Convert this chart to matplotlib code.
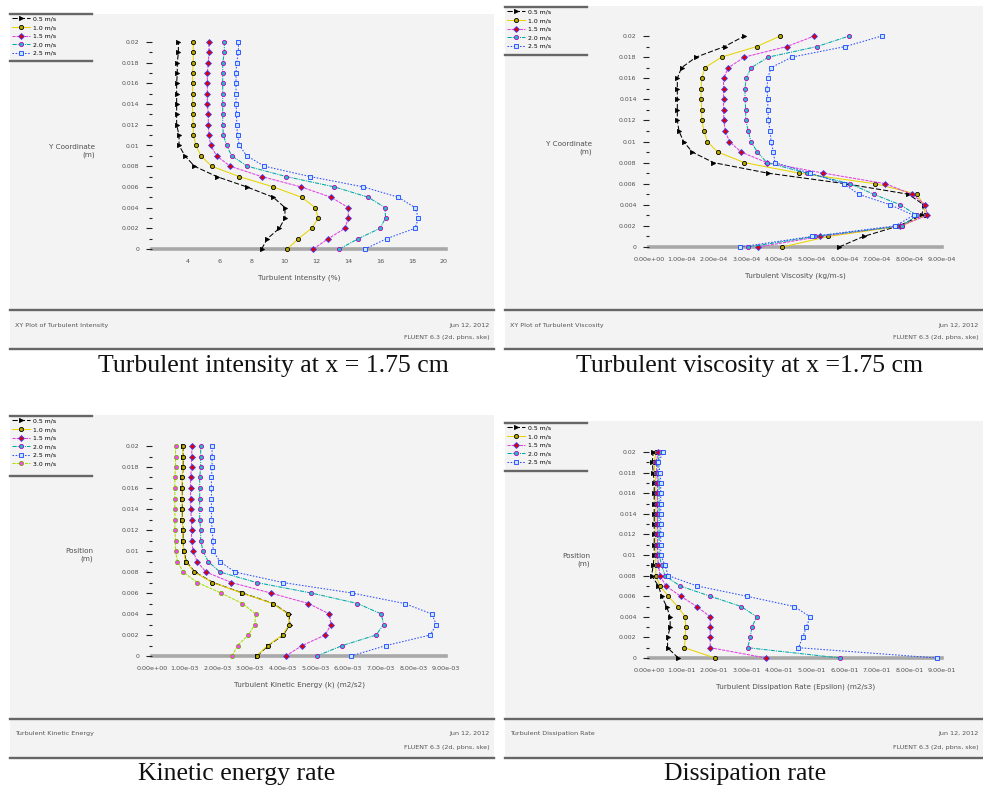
import matplotlib
matplotlib.use("Agg")
import matplotlib.pyplot as plt
from matplotlib.lines import Line2D
from matplotlib.patches import Rectangle
from matplotlib.ticker import FixedLocator, FuncFormatter

W, H = 983, 786

# wall-normal position of the 21 sampling points (m), bottom to top
pos = [0.0, 0.001, 0.002, 0.003, 0.004, 0.005, 0.006, 0.007, 0.008, 0.009, 0.010,
       0.011, 0.012, 0.013, 0.014, 0.015, 0.016, 0.017, 0.018, 0.019, 0.020]

case_labels = ["0.5 m/s", "1.0 m/s", "1.5 m/s", "2.0 m/s", "2.5 m/s"]
case_labels_k = ["0.5 m/s", "1.0 m/s", "1.5 m/s", "2.0 m/s", "2.5 m/s", "3.0 m/s"]

# turbulent intensity (%) at x = 1.75 cm
ti_1 = [8.60, 8.96, 9.71, 10.06, 10.06, 9.33, 7.67, 5.79, 4.40, 3.81, 3.44,
        3.44, 3.29, 3.29, 3.29, 3.29, 3.29, 3.33, 3.33, 3.40, 3.40]
ti_2 = [10.21, 10.90, 11.73, 12.15, 11.94, 11.10, 9.33, 7.19, 5.48, 4.81, 4.50,
        4.33, 4.33, 4.29, 4.29, 4.29, 4.29, 4.29, 4.33, 4.33, 4.33]
ti_3 = [11.83, 12.77, 13.81, 14.02, 14.02, 12.94, 11.06, 8.60, 6.63, 5.79, 5.42,
        5.31, 5.27, 5.27, 5.21, 5.21, 5.21, 5.21, 5.27, 5.31, 5.31]
ti_4 = [13.46, 14.65, 16.00, 16.35, 16.31, 15.27, 13.15, 10.13, 7.71, 6.73, 6.42,
        6.21, 6.17, 6.17, 6.17, 6.17, 6.17, 6.17, 6.17, 6.27, 6.27]
ti_5 = [15.06, 16.42, 18.19, 18.40, 18.19, 17.15, 14.96, 11.63, 8.77, 7.67, 7.21,
        7.10, 7.04, 7.04, 7.00, 7.00, 7.00, 7.00, 7.04, 7.15, 7.15]

# turbulent viscosity (x 1e-4 kg/m-s) at x = 1.75 cm
mu_1 = [5.84, 6.59, 7.67, 8.38, 8.44, 7.97, 6.03, 3.65, 1.98, 1.33, 1.06,
        0.92, 0.87, 0.87, 0.87, 0.87, 0.87, 1.00, 1.45, 2.32, 2.93]
mu_2 = [4.10, 5.51, 7.77, 8.49, 8.44, 8.23, 6.95, 4.61, 2.93, 2.11, 1.79,
        1.69, 1.62, 1.62, 1.60, 1.60, 1.62, 1.72, 2.23, 3.31, 4.03]
mu_3 = [3.36, 5.26, 7.72, 8.54, 8.49, 8.08, 7.26, 5.36, 3.62, 2.83, 2.47,
        2.34, 2.30, 2.29, 2.29, 2.29, 2.29, 2.44, 2.93, 4.23, 5.08]
mu_4 = [3.05, 5.10, 7.77, 8.23, 7.72, 6.90, 6.18, 4.85, 3.62, 3.33, 3.13,
        3.05, 2.97, 2.97, 2.95, 2.95, 2.98, 3.14, 3.67, 5.16, 6.15]
mu_5 = [2.80, 5.00, 7.56, 8.13, 7.41, 6.44, 5.98, 4.95, 3.87, 3.82, 3.75,
        3.72, 3.67, 3.65, 3.65, 3.62, 3.65, 3.75, 4.39, 6.03, 7.15]

# turbulent kinetic energy (x 1e-3 m2/s2)
k_1 = [3.22, 3.56, 4.02, 4.22, 4.19, 3.71, 2.77, 1.87, 1.31, 1.05, 0.98,
       0.95, 0.95, 0.93, 0.93, 0.93, 0.93, 0.93, 0.95, 0.95, 0.95]
k_2 = [3.20, 3.54, 4.00, 4.20, 4.17, 3.69, 2.75, 1.85, 1.29, 1.03, 0.97,
       0.94, 0.94, 0.92, 0.92, 0.92, 0.92, 0.92, 0.94, 0.94, 0.94]
k_3 = [4.09, 4.60, 5.30, 5.48, 5.43, 4.79, 3.63, 2.43, 1.65, 1.38, 1.26,
       1.21, 1.21, 1.21, 1.18, 1.18, 1.18, 1.18, 1.21, 1.21, 1.23]
k_4 = [5.04, 5.83, 6.86, 7.09, 7.02, 6.29, 4.87, 3.20, 2.08, 1.72, 1.56,
       1.49, 1.49, 1.46, 1.46, 1.46, 1.46, 1.46, 1.49, 1.49, 1.49]
k_5 = [6.09, 7.17, 8.52, 8.70, 8.57, 7.73, 6.12, 4.00, 2.54, 2.08, 1.87,
       1.87, 1.84, 1.82, 1.82, 1.82, 1.82, 1.82, 1.84, 1.84, 1.84]
k_6 = [2.45, 2.62, 2.95, 3.15, 3.17, 2.77, 2.11, 1.39, 0.95, 0.78, 0.72,
       0.72, 0.70, 0.70, 0.70, 0.70, 0.70, 0.70, 0.72, 0.72, 0.72]

# turbulent dissipation rate (x 1e-1 m2/s3)
eps_1 = [0.90, 0.57, 0.57, 0.65, 0.65, 0.54, 0.39, 0.29, 0.08, 0.13, 0.16,
         0.16, 0.16, 0.16, 0.16, 0.16, 0.16, 0.16, 0.13, 0.10, 0.13]
eps_2 = [2.03, 1.09, 1.11, 1.13, 1.11, 0.88, 0.59, 0.34, 0.21, 0.21, 0.21,
         0.21, 0.21, 0.21, 0.21, 0.21, 0.21, 0.21, 0.18, 0.16, 0.22]
eps_3 = [3.60, 1.88, 1.88, 1.88, 1.88, 1.47, 0.97, 0.52, 0.34, 0.29, 0.26,
         0.26, 0.26, 0.26, 0.26, 0.26, 0.26, 0.26, 0.24, 0.22, 0.29]
eps_4 = [5.87, 3.03, 3.11, 3.16, 3.31, 2.83, 1.88, 0.95, 0.49, 0.39, 0.31,
         0.31, 0.31, 0.31, 0.31, 0.31, 0.31, 0.31, 0.29, 0.26, 0.36]
eps_5 = [8.85, 4.59, 4.72, 4.83, 4.95, 4.46, 3.00, 1.47, 0.59, 0.49, 0.36,
         0.36, 0.36, 0.36, 0.36, 0.36, 0.36, 0.36, 0.34, 0.29, 0.44]

# line styles of the xy-plot series
styles = [
    dict(color="#000000", ls=(0, (5, 2)), marker=">", mfc="#000000", mec="#000000"),
    dict(color="#e8d400", ls="-", marker="o", mfc="#b8a800", mec="#000000"),
    dict(color="#e040e0", ls=(0, (3, 1)), marker="D", mfc="#e00000", mec="#4040ff"),
    dict(color="#00a8a8", ls=(0, (4, 1, 1, 1)), marker="o", mfc="#20c0c0", mec="#c000c0"),
    dict(color="#3050ff", ls=(0, (1.5, 1.5)), marker="s", mfc="#c0e8ff", mec="#2040ff"),
    dict(color="#a8e000", ls=(0, (3, 1)), marker="o", mfc="#ff40ff", mec="#70b000"),
]

fig = plt.figure(figsize=(W / 100, H / 100), dpi=100)
fig.patch.set_facecolor("white")
plt.rcParams["font.family"] = ["DejaVu Sans"]


def fx(px):
    return px / W


def fy(py):
    return 1 - py / H


def hline(x0, x1, y, color="#666666", lw=1.7):
    fig.add_artist(Line2D([fx(x0), fx(x1)], [fy(y), fy(y)], color=color, lw=lw,
                          transform=fig.transFigure))


def panel(box, axbox, series, labels, xlim, xticks, xfmt, xlabel, ylabel,
          footer, legend_top, legend_bot, caption, cap_xy):
    bx0, by0, bx1, by1 = box
    fig.add_artist(Rectangle((fx(bx0), fy(by1)), fx(bx1) - fx(bx0), fy(by0) - fy(by1),
                             facecolor="#f3f3f3", edgecolor="none",
                             transform=fig.transFigure, zorder=0))
    # legend frame lines, footer separator and bottom rule
    hline(bx0, bx0 + 82, legend_top)
    hline(bx0, bx0 + 82, legend_bot)
    hline(bx0, bx1, by1 - 39)
    hline(bx0, bx1, by1)

    l, t, r, b = axbox
    ax = fig.add_axes([fx(l), fy(b), fx(r) - fx(l), fy(t) - fy(b)])
    ax.set_facecolor("none")
    for vals, st, lab in zip(series, styles, labels):
        ax.plot(vals, pos, color=st["color"], ls=st["ls"], lw=0.75,
                marker=st["marker"], ms=3.0, mfc=st["mfc"], mec=st["mec"], mew=0.6,
                clip_on=False, label=lab)
    ax.set_xlim(*xlim)
    ax.set_ylim(0, 0.02)
    for s in ["top", "right", "left"]:
        ax.spines[s].set_visible(False)
    ax.spines["bottom"].set_color("#a8a8a8")
    ax.spines["bottom"].set_linewidth(2.6)
    ax.spines["bottom"].set_zorder(0.5)
    ax.xaxis.set_major_locator(FixedLocator(xticks))
    ax.xaxis.set_major_formatter(FuncFormatter(xfmt))
    ax.tick_params(axis="x", length=0, pad=7, labelsize=4.6, labelcolor="#505050")
    ax.yaxis.set_major_locator(FixedLocator(pos[::2]))
    ax.yaxis.set_minor_locator(FixedLocator(pos[1::2]))
    ax.yaxis.set_major_formatter(FuncFormatter(lambda v, p: "%g" % round(v, 3)))
    ax.tick_params(axis="y", which="major", length=4, width=0.8, pad=5,
                   labelsize=4.4, labelcolor="#505050", color="#222222")
    ax.tick_params(axis="y", which="minor", length=2.5, width=0.8, color="#222222")
    ax.set_xlabel(xlabel, fontsize=5.2, color="#505050", labelpad=8)

    fig.text(fx(ylabel[1]), fy(ylabel[2]), ylabel[0], fontsize=5.2, color="#505050",
             ha="right", va="center", multialignment="right", linespacing=1.4)

    ax.legend(loc="upper left", bbox_to_anchor=(fx(bx0 + 1), fy(legend_top + 1.5)),
              bbox_transform=fig.transFigure, frameon=False, fontsize=4.4,
              handlelength=3.0, handletextpad=0.5, labelspacing=0.55,
              borderaxespad=0, borderpad=0.1, markerscale=1.0)

    fig.text(fx(bx0 + 5), fy(by1 - 24), footer[0], fontsize=4.6, color="#555555",
             ha="left", va="center")
    fig.text(fx(bx1 - 4), fy(by1 - 24), footer[1], fontsize=4.6, color="#555555",
             ha="right", va="center")
    fig.text(fx(bx1 - 4), fy(by1 - 11), footer[2], fontsize=4.6, color="#555555",
             ha="right", va="center")

    fig.text(fx(cap_xy[0]), fy(cap_xy[1]), caption, family="Liberation Serif",
             fontsize=18.5, color="#111111", ha="center", va="center")
    return ax


sci = lambda scale: (lambda v, p: "%.2e" % (v * scale))

panel(box=(10, 14, 494, 349), axbox=(152, 42, 446, 249),
      series=[ti_1, ti_2, ti_3, ti_4, ti_5], labels=case_labels,
      xlim=(1.75, 20.125), xticks=[4, 6, 8, 10, 12, 14, 16, 18, 20],
      xfmt=lambda v, p: "%d" % v, xlabel="Turbulent Intensity (%)",
      ylabel=("Y Coordinate\n(m)", 95, 151),
      footer=("XY Plot of Turbulent Intensity", "Jun 12, 2012",
              "FLUENT 6.3 (2d, pbns, ske)"),
      legend_top=14, legend_bot=61,
      caption="Turbulent intensity at x = 1.75 cm", cap_xy=(273, 366))

panel(box=(505, 6, 983, 349), axbox=(649, 36, 942, 247),
      series=[mu_1, mu_2, mu_3, mu_4, mu_5], labels=case_labels,
      xlim=(0, 9.0), xticks=[0, 1, 2, 3, 4, 5, 6, 7, 8, 9],
      xfmt=sci(1e-4), xlabel="Turbulent Viscosity (kg/m-s)",
      ylabel=("Y Coordinate\n(m)", 592, 148),
      footer=("XY Plot of Turbulent Viscosity", "Jun 12, 2012",
              "FLUENT 6.3 (2d, pbns, ske)"),
      legend_top=7, legend_bot=55,
      caption="Turbulent viscosity at x =1.75 cm", cap_xy=(750, 366))

panel(box=(10, 415, 494, 758), axbox=(152, 446, 446, 656),
      series=[k_1, k_2, k_3, k_4, k_5, k_6], labels=case_labels_k,
      xlim=(0, 9.0), xticks=[0, 1, 2, 3, 4, 5, 6, 7, 8, 9],
      xfmt=sci(1e-3), xlabel="Turbulent Kinetic Energy (k) (m2/s2)",
      ylabel=("Position\n(m)", 93, 555),
      footer=("Turbulent Kinetic Energy", "Jun 12, 2012",
              "FLUENT 6.3 (2d, pbns, ske)"),
      legend_top=416, legend_bot=476,
      caption="Kinetic energy rate", cap_xy=(237, 774))

panel(box=(505, 421, 983, 758), axbox=(649, 452, 942, 658),
      series=[eps_1, eps_2, eps_3, eps_4, eps_5], labels=case_labels,
      xlim=(0, 9.0), xticks=[0, 1, 2, 3, 4, 5, 6, 7, 8, 9],
      xfmt=sci(1e-1), xlabel="Turbulent Dissipation Rate (Epsilon) (m2/s3)",
      ylabel=("Position\n(m)", 590, 560),
      footer=("Turbulent Dissipation Rate", "Jun 12, 2012",
              "FLUENT 6.3 (2d, pbns, ske)"),
      legend_top=423, legend_bot=471,
      caption="Dissipation rate", cap_xy=(745, 774))

fig.savefig("out.png", dpi=100)
